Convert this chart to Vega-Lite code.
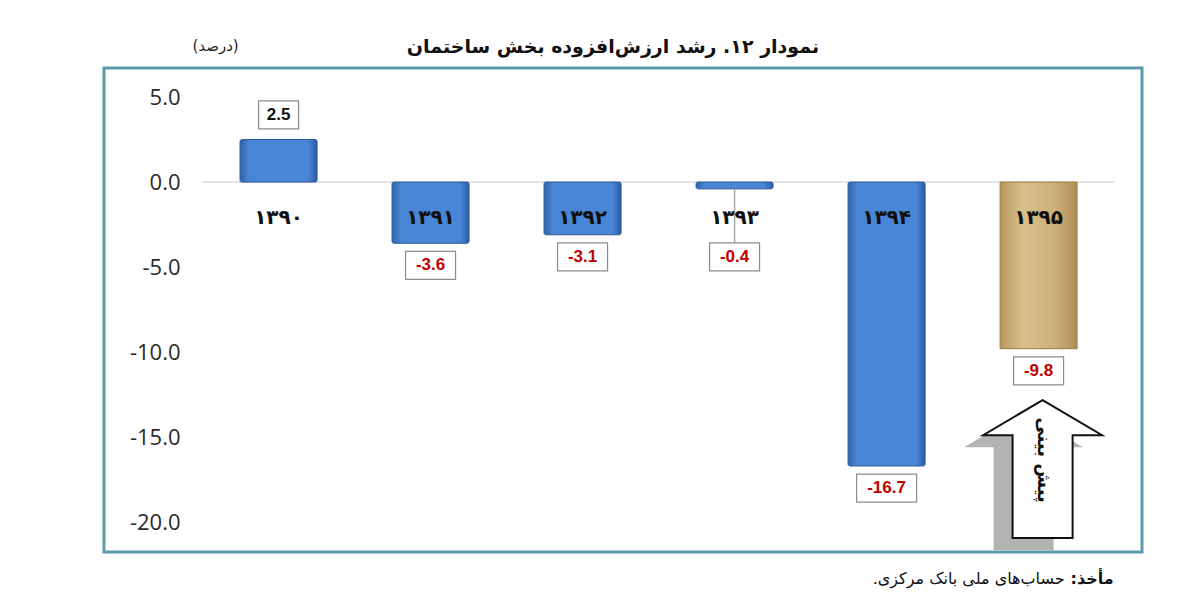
{
  "$schema": "https://vega.github.io/schema/vega-lite/v6.json",
  "width": 1038,
  "height": 484,
  "autosize": {"type": "none"},
  "padding": {"left": 104, "top": 68, "right": 58, "bottom": 64},
  "background": "white",
  "config": {
    "view": {"stroke": "#5b9bab", "strokeWidth": 3},
    "font": "DejaVu Sans",
    "locale": {"number": {"decimal": ".", "thousands": ",", "grouping": [3], "currency": ["", ""], "minus": "-"}}
  },
  "title": {
    "text": "نمودار ۱۲. رشد ارزش‌افزوده بخش ساختمان",
    "fontSize": 19,
    "fontWeight": "bold",
    "font": "DejaVu Sans",
    "anchor": "middle",
    "offset": 12,
    "dx": -10,
    "dy": 30,
    "color": "#111111"
  },
  "data": {
    "values": [
      {"year": "۱۳۹۰", "v": 2.5},
      {"year": "۱۳۹۱", "v": -3.6},
      {"year": "۱۳۹۲", "v": -3.1},
      {"year": "۱۳۹۳", "v": -0.4},
      {"year": "۱۳۹۴", "v": -16.7},
      {"year": "۱۳۹۵", "v": -9.8}
    ]
  },
  "transform": [
    {"calculate": "datum.v > 0 ? datum.v + 1.45 : min(datum.v - 1.3, -4.4)", "as": "ly"},
    {"calculate": "length(format(datum.v, '.1f')) * 10 + 10", "as": "bw"}
  ],
  "encoding": {
    "x": {
      "field": "year",
      "type": "ordinal",
      "sort": null,
      "scale": {"paddingInner": 0.4934, "paddingOuter": 0.661, "align": 0.677},
      "axis": null
    }
  },
  "layer": [
    {
      "mark": {"type": "tick", "color": "#d9d9d9", "thickness": 2, "size": 152},
      "encoding": {"y": {"datum": 0, "type": "quantitative"}}
    },
    {
      "transform": [{"filter": "datum.year != '۱۳۹۵'"}],
      "mark": {
        "type": "bar",
        "stroke": "#2c5996",
        "strokeWidth": 1,
        "cornerRadius": 2,
        "fill": {
          "gradient": "linear",
          "x1": 0, "x2": 1, "y1": 0, "y2": 0,
          "stops": [
            {"offset": 0, "color": "#2f62ad"},
            {"offset": 0.12, "color": "#4a86d6"},
            {"offset": 0.88, "color": "#4a86d6"},
            {"offset": 1, "color": "#2c5ca6"}
          ]
        }
      },
      "encoding": {
        "y": {
          "field": "v",
          "type": "quantitative",
          "scale": {"domain": [-21.76, 6.71], "nice": false, "zero": false},
          "axis": {
            "values": [-20, -15, -10, -5, 0, 5],
            "format": ".1f",
            "offset": -76,
            "domain": false,
            "ticks": false,
            "grid": false,
            "labelFont": "Open Sans",
            "labelFontSize": 22,
            "labelColor": "#2a2a2a",
            "labelPadding": 0,
            "title": null
          }
        },
        "y2": {"datum": 0}
      }
    },
    {
      "transform": [{"filter": "datum.year == '۱۳۹۵'"}],
      "mark": {
        "type": "bar",
        "stroke": "#9c7d45",
        "strokeWidth": 1,
        "fill": {
          "gradient": "linear",
          "x1": 0, "x2": 1, "y1": 0, "y2": 0,
          "stops": [
            {"offset": 0, "color": "#b8975c"},
            {"offset": 0.3, "color": "#d8c08c"},
            {"offset": 0.7, "color": "#cdb07a"},
            {"offset": 1, "color": "#b08e55"}
          ]
        }
      },
      "encoding": {
        "y": {"field": "v", "type": "quantitative"},
        "y2": {"datum": 0}
      }
    },
    {
      "transform": [{"filter": "datum.v < 0 && datum.v > -1"}],
      "mark": {"type": "rule", "color": "#a6a6a6", "strokeWidth": 1.5},
      "encoding": {
        "y": {"field": "v", "type": "quantitative"},
        "y2": {"field": "ly"}
      }
    },
    {
      "mark": {"type": "bar", "fill": "white", "stroke": "#8c8c8c", "strokeWidth": 1.2, "yOffset": -14, "y2Offset": 14},
      "encoding": {
        "y": {"field": "ly", "type": "quantitative"},
        "y2": {"field": "ly"},
        "size": {"field": "bw", "type": "quantitative", "scale": null}
      }
    },
    {
      "mark": {"type": "text", "font": "Liberation Sans", "fontSize": 17, "fontWeight": "bold", "baseline": "middle"},
      "encoding": {
        "y": {"field": "ly", "type": "quantitative"},
        "text": {"field": "v", "type": "quantitative", "format": ".1f"},
        "color": {"condition": {"test": "datum.v < 0", "value": "#c00000"}, "value": "#111111"}
      }
    },
    {
      "mark": {"type": "text", "font": "DejaVu Sans", "fontSize": 20, "fontWeight": "bold", "baseline": "middle", "color": "#111111"},
      "encoding": {
        "y": {"datum": -2.1, "type": "quantitative"},
        "text": {"field": "year"}
      }
    },
    {
      "transform": [{"filter": "datum.year == '۱۳۹۵'"}],
      "mark": {
        "type": "point",
        "shape": "M0,-1 L0.862,-0.49 L0.435,-0.49 L0.435,1 L-0.435,1 L-0.435,-0.49 L-0.862,-0.49 Z",
        "size": 19044,
        "filled": true,
        "fill": "#b3b3b3",
        "strokeWidth": 0,
        "opacity": 1,
        "xOffset": -15,
        "yOffset": 12
      },
      "encoding": {"y": {"datum": -16.88, "type": "quantitative"}}
    },
    {
      "transform": [{"filter": "datum.year == '۱۳۹۵'"}],
      "mark": {
        "type": "point",
        "shape": "M0,-1 L0.862,-0.49 L0.435,-0.49 L0.435,1 L-0.435,1 L-0.435,-0.49 L-0.862,-0.49 Z",
        "size": 19044,
        "filled": false,
        "fill": "white",
        "fillOpacity": 1,
        "stroke": "#111111",
        "strokeWidth": 2,
        "opacity": 1,
        "xOffset": 4
      },
      "encoding": {"y": {"datum": -16.88, "type": "quantitative"}}
    },
    {
      "transform": [{"filter": "datum.year == '۱۳۹۵'"}],
      "mark": {"type": "text", "text": "پیش بینی", "angle": 90, "font": "DejaVu Sans", "fontSize": 18, "fontWeight": "bold", "baseline": "middle", "align": "center", "color": "#111111", "xOffset": 4},
      "encoding": {"y": {"datum": -16.35, "type": "quantitative"}}
    },
    {
      "transform": [{"filter": "datum.year == '۱۳۹۰'"}],
      "mark": {"type": "text", "text": "(درصد)", "font": "DejaVu Sans", "fontSize": 15, "baseline": "middle", "align": "center", "color": "#222222", "dx": -63},
      "encoding": {"y": {"datum": 8.0, "type": "quantitative"}}
    },
    {
      "transform": [{"filter": "datum.year == '۱۳۹۵'"}],
      "mark": {"type": "text", "text": "مأخذ:‏", "font": "DejaVu Sans", "fontSize": 16, "fontWeight": "bold", "baseline": "middle", "align": "right", "color": "#111111", "dx": 75},
      "encoding": {"y": {"datum": -23.35, "type": "quantitative"}}
    },
    {
      "transform": [{"filter": "datum.year == '۱۳۹۵'"}],
      "mark": {"type": "text", "text": "حساب‌های ملی بانک مرکزی.‏", "font": "DejaVu Sans", "fontSize": 16, "baseline": "middle", "align": "right", "color": "#111111", "dx": 26},
      "encoding": {"y": {"datum": -23.35, "type": "quantitative"}}
    }
  ]
}
